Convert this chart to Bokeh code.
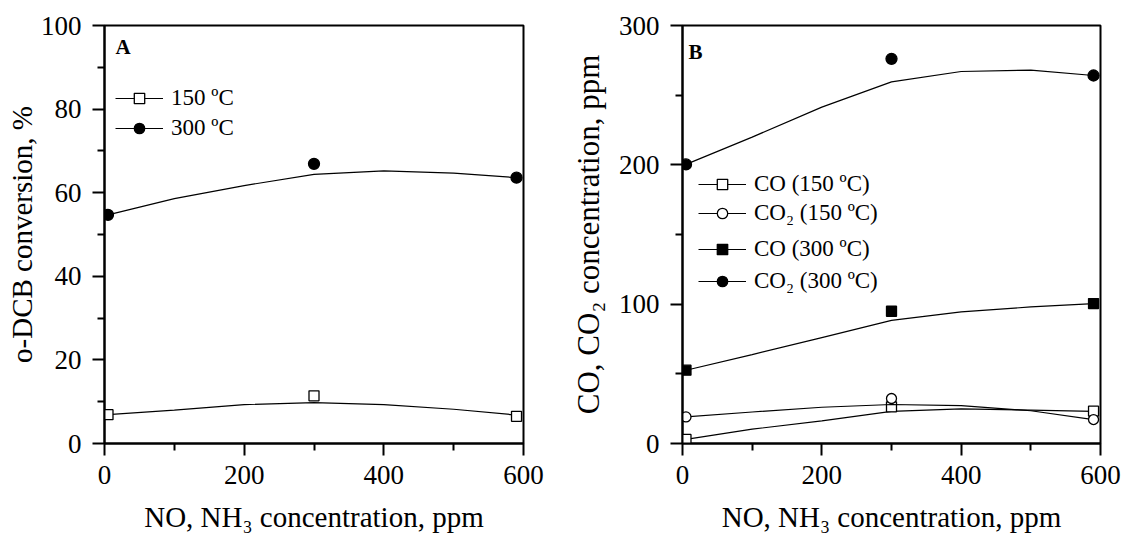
from bokeh.plotting import figure
from bokeh.models import FixedTicker, Legend, LegendItem, Label, Range1d
from bokeh.layouts import row
from bokeh.embed import file_html
from bokeh.resources import INLINE

# ---------------- data ----------------
conc = [5, 300, 590]                       # NO, NH3 concentration, ppm
fit_conc = [5, 100, 200, 300, 400, 500, 590]

# Panel A: o-DCB conversion, %
a_150 = [6.9, 11.4, 6.5]
a_300 = [54.7, 66.9, 63.6]
a_150_fit = [6.9, 8.0, 9.3, 9.8, 9.3, 8.2, 6.8]
a_300_fit = [54.7, 58.6, 61.7, 64.4, 65.2, 64.7, 63.6]

# Panel B: CO, CO2 concentration, ppm
co_150 = [2.9, 26.3, 23.2]
co2_150 = [19.1, 32.3, 17.2]
co_300 = [52.6, 94.9, 100.4]
co2_300 = [200.3, 276.1, 264.1]
co_150_fit = [2.9, 10.3, 16.2, 23.0, 24.8, 24.0, 23.0]
co2_150_fit = [19.1, 22.6, 26.0, 28.0, 27.2, 23.5, 17.2]
co_300_fit = [52.6, 63.8, 76.0, 88.4, 94.4, 98.0, 100.4]
co2_300_fit = [200.3, 219.9, 241.4, 259.5, 267.0, 268.0, 264.1]

x_ticks = [0, 200, 400, 600]
x_minor = [100, 300, 500]
a_ticks = [0, 20, 40, 60, 80, 100]
a_minor = [10, 30, 50, 70, 90]
b_ticks = [0, 100, 200, 300]
b_minor = [50, 150, 250]

x_label = "NO, NH\u2083 concentration, ppm"
a_ylabel = "o-DCB conversion, %"
b_ylabel = "CO, CO\u2082 concentration, ppm"
a_names = ["150 \u00baC", "300 \u00baC"]
b_names = ["CO (150 \u00baC)", "CO\u2082 (150 \u00baC)", "CO (300 \u00baC)", "CO\u2082 (300 \u00baC)"]

FONT = "Liberation Serif"


def style(p, xt, xm, yt, ym, ylab_standoff, ylab_size):
    p.xgrid.visible = False
    p.ygrid.visible = False
    p.outline_line_color = "black"
    p.outline_line_width = 2
    p.outline_line_alpha = 1
    p.background_fill_color = "white"
    p.border_fill_color = "white"
    p.xaxis.ticker = FixedTicker(ticks=xt, minor_ticks=xm)
    p.yaxis.ticker = FixedTicker(ticks=yt, minor_ticks=ym)
    for ax in (p.xaxis[0], p.yaxis[0]):
        ax.axis_line_width = 2
        ax.axis_line_color = "black"
        ax.major_tick_line_width = 2
        ax.minor_tick_line_width = 2
        ax.major_tick_line_color = "black"
        ax.minor_tick_line_color = "black"
        ax.major_tick_out = 12
        ax.major_tick_in = 0
        ax.minor_tick_out = 7
        ax.minor_tick_in = 0
        ax.major_label_text_font = FONT
        ax.major_label_text_font_size = "27px"
        ax.major_label_text_color = "black"
        ax.axis_label_text_font = FONT
        ax.axis_label_text_font_size = "29px"
        ax.axis_label_text_font_style = "normal"
        ax.axis_label_text_color = "black"
    p.xaxis[0].major_label_standoff = 10
    p.xaxis[0].axis_label_standoff = 14
    p.yaxis[0].major_label_standoff = 11
    p.yaxis[0].axis_label_standoff = ylab_standoff
    p.yaxis[0].axis_label_text_font_size = ylab_size


def series(p, xs, ys, fx, fy, marker, fill, size):
    lr = p.line(fx, fy, line_color="black", line_width=1.2)
    sr = p.scatter(xs, ys, marker=marker, size=size, fill_color=fill,
                   line_color="black", line_width=1.3)
    return [lr, sr]


def make_legend(items, loc, spacing):
    return Legend(items=items, location=loc, spacing=spacing, padding=0, margin=0,
                  border_line_color=None, background_fill_alpha=0,
                  glyph_width=48, glyph_height=26, label_height=26,
                  label_standoff=8, label_text_font=FONT,
                  label_text_font_size="23px", label_text_color="black")


# ---------------- panel A ----------------
p1 = figure(width=560, height=542, x_range=Range1d(0, 600), y_range=Range1d(0, 100),
            min_border_left=104, min_border_right=37, min_border_top=25,
            min_border_bottom=99, toolbar_location=None, output_backend="svg",
            x_axis_label=x_label, y_axis_label=a_ylabel)
style(p1, x_ticks, x_minor, a_ticks, a_minor, 0, "29px")

ra1 = series(p1, conc, a_150, fit_conc, a_150_fit, "square", "white", 10)
ra2 = series(p1, conc, a_300, fit_conc, a_300_fit, "circle", "black", 11)
p1.add_layout(make_legend([LegendItem(label=a_names[0], renderers=ra1),
                           LegendItem(label=a_names[1], renderers=ra2)], (11, 302), 4))
p1.add_layout(Label(x=11, y=397, x_units="screen", y_units="screen", text="A",
                    text_font=FONT, text_font_style="bold", text_font_size="21px",
                    text_color="black", text_baseline="alphabetic"))

# ---------------- panel B ----------------
p2 = figure(width=563, height=542, x_range=Range1d(0, 600), y_range=Range1d(0, 300),
            min_border_left=122, min_border_right=23, min_border_top=25,
            min_border_bottom=99, toolbar_location=None, output_backend="svg",
            x_axis_label=x_label, y_axis_label=b_ylabel)
style(p2, x_ticks, x_minor, b_ticks, b_minor, 10, "31px")

rb1 = series(p2, conc, co_150, fit_conc, co_150_fit, "square", "white", 10)
rb2 = series(p2, conc, co2_150, fit_conc, co2_150_fit, "circle", "white", 10)
rb3 = series(p2, conc, co_300, fit_conc, co_300_fit, "square", "black", 10)
rb4 = series(p2, conc, co2_300, fit_conc, co2_300_fit, "circle", "black", 11)
p2.add_layout(make_legend([LegendItem(label=b_names[0], renderers=rb1),
                           LegendItem(label=b_names[1], renderers=rb2)], (16, 217), 3))
p2.add_layout(make_legend([LegendItem(label=b_names[2], renderers=rb3),
                           LegendItem(label=b_names[3], renderers=rb4)], (16, 149), 6))
p2.add_layout(Label(x=6, y=392, x_units="screen", y_units="screen", text="B",
                    text_font=FONT, text_font_style="bold", text_font_size="21px",
                    text_color="black", text_baseline="alphabetic"))

layout = row(p1, p2)
open("out.html", "w").write(file_html(layout, INLINE))
